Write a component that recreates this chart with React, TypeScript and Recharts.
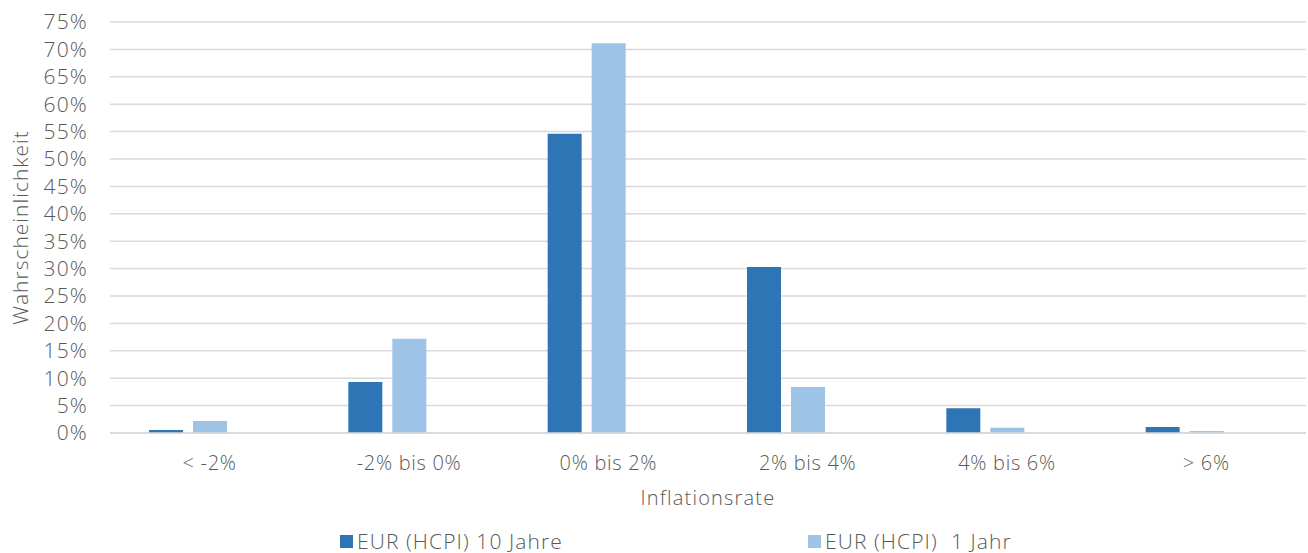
import {
  BarChart,
  Bar,
  XAxis,
  YAxis,
  CartesianGrid,
  Legend,
  Label,
} from "recharts";

const categories = ["< -2%", "-2% bis 0%", "0% bis 2%", "2% bis 4%", "4% bis 6%", "> 6%"];
const tenYears = [0.55, 9.3, 54.6, 30.3, 4.5, 1.1];
const oneYear = [2.2, 17.2, 71.1, 8.4, 0.95, 0.35];
const yTicks = [0, 5, 10, 15, 20, 25, 30, 35, 40, 45, 50, 55, 60, 65, 70, 75];

const seriesNames = ["EUR (HCPI) 10 Jahre", "EUR (HCPI)  1 Jahr"];
const COLORS = ["#2E75B6", "#9DC3E6"];
const FONT = "'Open Sans', sans-serif";
const TEXT = "#595959";
const GRID = "#d9d9d9";
const WEIGHT = 300;

const data = categories.map((name, i) => ({
  name,
  tenYears: tenYears[i],
  oneYear: oneYear[i],
}));

const LegendBox = () => (
  <div
    style={{
      position: "relative",
      height: 40,
      fontFamily: FONT,
      fontWeight: WEIGHT,
      letterSpacing: 1.1,
      color: TEXT,
      fontSize: 21,
    }}
  >
    {seriesNames.map((n, i) => (
      <div
        key={n}
        style={{
          position: "absolute",
          left: i === 0 ? 340 : 808,
          top: 14,
          display: "flex",
          alignItems: "center",
          whiteSpace: "pre",
        }}
      >
        <span style={{ width: 13, height: 13, background: COLORS[i], marginRight: 4, display: "inline-block" }} />
        <span>{n}</span>
      </div>
    ))}
  </div>
);

export default function App() {
  return (
    <div style={{ position: "absolute", left: 0, top: 0, width: 1308, height: 553, background: "#fff" }}>
      <BarChart
        width={1308}
        height={553}
        data={data}
        margin={{ top: 22, right: 2, left: 0, bottom: 0 }}
        barSize={34}
        barGap={10}
      >
        <CartesianGrid vertical={false} stroke={GRID} strokeWidth={1.5} />
        <XAxis
          dataKey="name"
          height={80}
          tickLine={false}
          tickSize={0}
          tickMargin={23}
          axisLine={{ stroke: GRID, strokeWidth: 1.5 }}
          tick={{ fill: TEXT, fontSize: 20, fontFamily: FONT, fontWeight: WEIGHT, letterSpacing: 0.7 }}
        >
          <Label
            content={({ viewBox }: any) => (
              <text
                x={viewBox.x + viewBox.width / 2}
                y={viewBox.y + 72}
                textAnchor="middle"
                fill={TEXT}
                fontSize={20}
                fontFamily={FONT}
                fontWeight={WEIGHT}
                letterSpacing={1.2}
              >
                Inflationsrate
              </text>
            )}
          />
        </XAxis>
        <YAxis
          width={110}
          domain={[0, 75]}
          ticks={yTicks}
          interval={0}
          tickFormatter={(v) => `${v}%`}
          axisLine={false}
          tickLine={false}
          tickSize={0}
          tickMargin={22}
          tick={{ fill: TEXT, fontSize: 21, fontFamily: FONT, fontWeight: WEIGHT, letterSpacing: 1.2 }}
        >
          <Label
            content={({ viewBox }: any) => {
              const cy = viewBox.y + viewBox.height / 2;
              return (
                <text
                  x={28}
                  y={cy}
                  transform={`rotate(-90, 28, ${cy})`}
                  textAnchor="middle"
                  fill={TEXT}
                  fontSize={21}
                  fontFamily={FONT}
                  fontWeight={WEIGHT}
                  letterSpacing={1.0}
                >
                  Wahrscheinlichkeit
                </text>
              );
            }}
          />
        </YAxis>
        <Legend verticalAlign="bottom" content={() => <LegendBox />} />
        <Bar dataKey="tenYears" name={seriesNames[0]} fill={COLORS[0]} isAnimationActive={false} />
        <Bar dataKey="oneYear" name={seriesNames[1]} fill={COLORS[1]} isAnimationActive={false} />
        <Bar dataKey="reserve" fill="transparent" isAnimationActive={false} legendType="none" />
      </BarChart>
    </div>
  );
}
